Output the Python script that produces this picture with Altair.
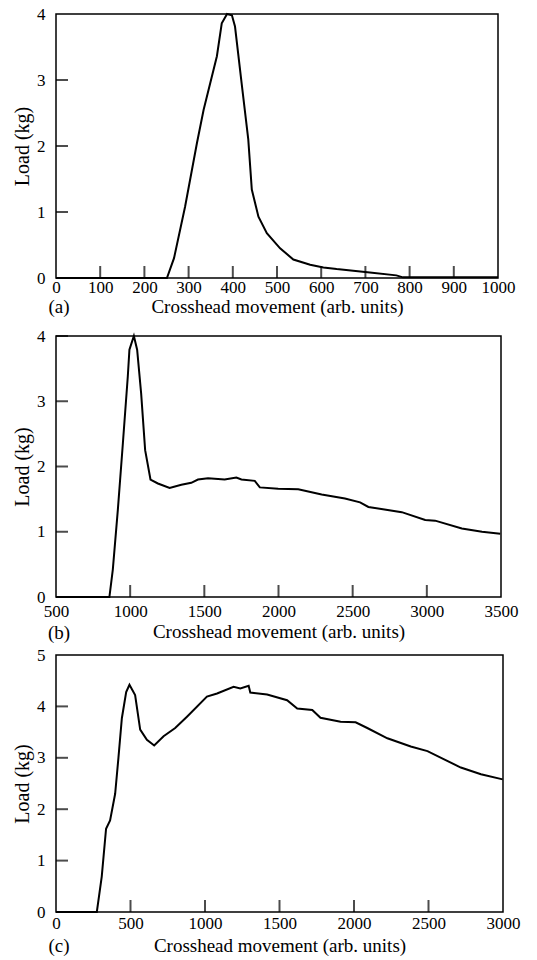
import altair as alt
import pandas as pd

FONT = "Liberation Serif"
X_TITLE = "Crosshead movement (arb. units)"
Y_TITLE = "Load (kg)"

# ---------------- panel (a) ----------------
a_x = [0, 251, 267, 292, 319, 334, 364, 375, 387, 398, 405, 420, 435, 443, 458,
       477, 507, 537, 575, 605, 635, 710, 770, 785, 1000]
a_y = [0, 0, 0.30, 1.08, 2.05, 2.55, 3.36, 3.86, 4.0, 3.98, 3.81, 2.95, 2.1, 1.34,
       0.93, 0.68, 0.45, 0.28, 0.20, 0.16, 0.135, 0.085, 0.04, 0.01, 0.01]
a_xlabels = [0, 100, 200, 300, 400, 500, 600, 700, 800, 900, 1000]
a_xticks = [100, 200, 300, 400, 500, 600, 700, 800, 900]
a_ylabels = [0, 1, 2, 3, 4]
a_yticks = [1, 2, 3]

# ---------------- panel (b) ----------------
b_x = [500, 860, 883, 917, 951, 984, 995, 1025, 1047, 1074, 1101, 1137, 1187, 1266,
       1345, 1412, 1457, 1525, 1637, 1716, 1750, 1840, 1874, 1998, 2133, 2291, 2448,
       2550, 2606, 2831, 2989, 3056, 3236, 3372, 3495]
b_y = [0, 0, 0.42, 1.34, 2.36, 3.38, 3.79, 4.0, 3.79, 3.12, 2.25, 1.80, 1.74, 1.67,
       1.72, 1.75, 1.80, 1.82, 1.80, 1.83, 1.80, 1.78, 1.68, 1.66, 1.65, 1.57, 1.51,
       1.45, 1.38, 1.30, 1.18, 1.17, 1.05, 1.00, 0.97]
b_xlabels = [500, 1000, 1500, 2000, 2500, 3000, 3500]
b_xticks = [1000, 1500, 2000, 2500, 3000]
b_ylabels = [0, 1, 2, 3, 4]
b_yticks = [1, 2, 3, 4]

# ---------------- panel (c) ----------------
c_x = [0, 274, 307, 336, 363, 397, 419, 442, 471, 493, 531, 565, 610, 659, 722, 800,
       879, 1013, 1081, 1192, 1237, 1293, 1304, 1417, 1551, 1619, 1720, 1775, 1910,
       2011, 2089, 2224, 2381, 2493, 2605, 2717, 2852, 2998]
c_y = [0, 0, 0.69, 1.62, 1.78, 2.30, 3.0, 3.77, 4.28, 4.42, 4.22, 3.55, 3.35, 3.24,
       3.42, 3.58, 3.80, 4.19, 4.25, 4.38, 4.35, 4.40, 4.27, 4.23, 4.12, 3.96, 3.93,
       3.78, 3.70, 3.69, 3.58, 3.38, 3.22, 3.13, 2.97, 2.81, 2.68, 2.58]
c_xlabels = [0, 500, 1000, 1500, 2000, 2500, 3000]
c_xticks = [500, 1000, 1500, 2000, 2500]
c_ylabels = [0, 1, 2, 3, 4, 5]
c_yticks = [1, 2, 3, 4]

tags = ["(a)", "(b)", "(c)"]


def panel(xs, ys, xdom, ydom, xlabels, xticks, ylabels, yticks, tag,
          w, h, lpad, tpad, tag_dy):
    df = pd.DataFrame({"x": xs, "y": ys})
    xscale = alt.Scale(domain=xdom, nice=False, zero=False)
    yscale = alt.Scale(domain=ydom, nice=False, zero=False)
    xaxis = alt.Axis(values=xlabels, format="d", ticks=False, domain=False,
                     grid=False, labelFont=FONT, labelFontSize=17,
                     labelColor="black", labelPadding=lpad, labelFlush=False,
                     labelOverlap=False, title=X_TITLE, titleFont=FONT,
                     titleFontSize=19, titleFontWeight="normal",
                     titleColor="black", titlePadding=tpad)
    yaxis = alt.Axis(values=ylabels, format="d", ticks=False, domain=False,
                     grid=False, labelFont=FONT, labelFontSize=17,
                     labelColor="black", labelPadding=11, labelFlush=False,
                     labelOverlap=False, title=Y_TITLE, titleFont=FONT,
                     titleFontSize=20, titleFontWeight="normal",
                     titleColor="black", titlePadding=4)
    line = alt.Chart(df).mark_line(color="black", strokeWidth=2).encode(
        x=alt.X("x:Q", scale=xscale, axis=xaxis),
        y=alt.Y("y:Q", scale=yscale, axis=yaxis),
    )
    xt = alt.Chart(pd.DataFrame({"x": xticks})).mark_tick(
        color="black", thickness=2, size=12, orient="vertical"
    ).encode(
        x=alt.X("x:Q", scale=xscale, axis=xaxis),
        y=alt.value(h - 6),
    )
    yt = alt.Chart(pd.DataFrame({"y": yticks})).mark_tick(
        color="black", thickness=2, size=12, orient="horizontal"
    ).encode(
        y=alt.Y("y:Q", scale=yscale, axis=yaxis),
        x=alt.value(6),
    )
    lab = alt.Chart(pd.DataFrame({"t": [tag]})).mark_text(
        font=FONT, fontSize=19, align="center", baseline="middle", color="black"
    ).encode(text="t:N", x=alt.value(3), y=alt.value(h + tag_dy))
    return alt.layer(line, xt, yt, lab).properties(width=w, height=h)


pa = panel(a_x, a_y, [0, 1000], [0, 4], a_xlabels, a_xticks, a_ylabels, a_yticks,
           tags[0], 442, 264, 1, 2, 29)
pb = panel(b_x, b_y, [500, 3500], [0, 4], b_xlabels, b_xticks, b_ylabels, b_yticks,
           tags[1], 445, 261, 6, 3, 36)
pc = panel(c_x, c_y, [0, 3000], [0, 5], c_xlabels, c_xticks, c_ylabels, c_yticks,
           tags[2], 447, 257, 3, 5, 34)

chart = alt.vconcat(pa, pb, pc, spacing=58, bounds="flush").properties(
    padding={"left": 11, "top": 4, "right": 4, "bottom": 0}
).configure(background="white").configure_view(stroke="black", strokeWidth=1.5)

chart.save("out.html", embed_options={"renderer": "svg", "actions": False})
